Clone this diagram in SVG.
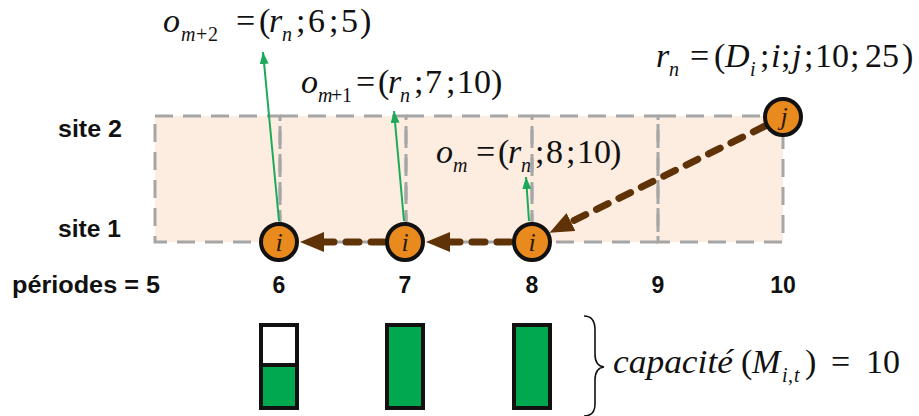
<svg xmlns="http://www.w3.org/2000/svg" width="919" height="416" viewBox="0 0 919 416">
<defs>
<style>
.m{font-family:'Liberation Serif','Times New Roman',serif;font-size:34px;fill:#111}
.it{font-style:italic}
.sub{font-size:20px}
.lbl{font-family:'Liberation Sans',Arial,sans-serif;font-size:23px;font-weight:bold;fill:#111}
.num{font-family:'Liberation Sans',Arial,sans-serif;font-size:23px;font-weight:bold;fill:#111;text-anchor:middle}
.cell{fill:none;stroke:#A6A6A6;stroke-width:3;stroke-dasharray:18 10}
.node{fill:#E88A1E;stroke:#111;stroke-width:4}
.nl{font-family:'Liberation Serif','Times New Roman',serif;font-style:italic;font-size:26px;fill:#2a1a08;text-anchor:middle}
.flow{fill:none;stroke:#5F3307;stroke-width:7;stroke-linecap:round;stroke-dasharray:13 12}
.green{fill:none;stroke:#1BAA5A;stroke-width:2}
.bar{stroke:#111;stroke-width:4}
</style>
<marker id="bh" viewBox="0 0 24 20" refX="0" refY="10" markerWidth="24" markerHeight="20" markerUnits="userSpaceOnUse" orient="auto">
<path d="M0,0 L24,10 L0,20 z" fill="#5F3307"/>
</marker>
<marker id="gh" viewBox="0 0 12 9" refX="12" refY="4.5" markerWidth="12" markerHeight="9" markerUnits="userSpaceOnUse" orient="auto">
<path d="M0,0 L12,4.5 L0,9 z" fill="#1BAA5A"/>
</marker>
</defs>
<rect width="919" height="416" fill="#fff"/>

<g id="grid">
<rect x="155" y="116" width="628" height="126" fill="#FCEDE0"/>
<rect class="cell" x="155" y="116" width="125" height="126"/>
<rect class="cell" x="280" y="116" width="126" height="126"/>
<rect class="cell" x="406" y="116" width="126" height="126"/>
<rect class="cell" x="532" y="116" width="126" height="126"/>
<rect class="cell" x="658" y="116" width="125" height="126"/>
</g>

<g id="labels">
<text class="lbl" x="58" y="137" textLength="64" lengthAdjust="spacingAndGlyphs">site 2</text>
<text class="lbl" x="58" y="237" textLength="63" lengthAdjust="spacingAndGlyphs">site 1</text>
<text class="lbl" x="12" y="293" textLength="148" lengthAdjust="spacingAndGlyphs">périodes = 5</text>
<text class="num" x="279" y="293">6</text>
<text class="num" x="405" y="293">7</text>
<text class="num" x="532" y="293">8</text>
<text class="num" x="658" y="293">9</text>
<text class="num" x="783" y="293">10</text>
</g>

<g id="connectors">
<line class="green" x1="279" y1="221" x2="263" y2="52" marker-end="url(#gh)"/>
<line class="green" x1="404" y1="221" x2="394" y2="111" marker-end="url(#gh)"/>
<line class="green" x1="529" y1="221" x2="526" y2="177" marker-end="url(#gh)"/>
<line class="flow" x1="765" y1="126" x2="571" y2="222" marker-end="url(#bh)"/>
<line class="flow" x1="510" y1="242" x2="450" y2="242" marker-end="url(#bh)"/>
<line class="flow" x1="384" y1="242" x2="324" y2="242" marker-end="url(#bh)"/>
</g>

<g id="node-i6"><circle class="node" cx="279" cy="242" r="18"/><text class="nl" x="279" y="251">i</text></g>
<g id="node-i7"><circle class="node" cx="405" cy="242" r="18"/><text class="nl" x="405" y="251">i</text></g>
<g id="node-i8"><circle class="node" cx="532" cy="242" r="18"/><text class="nl" x="532" y="251">i</text></g>
<g id="node-j10"><circle class="node" cx="783" cy="117" r="18"/><text class="nl" x="784" y="125">j</text></g>

<g id="eq-om2">
<text class="m" y="32"><tspan class="it" x="163">o</tspan><tspan class="sub it" x="181" y="41">m</tspan><tspan class="sub" x="196" y="41">+</tspan><tspan class="sub" x="208" y="41">2</tspan><tspan x="236" y="32">=</tspan><tspan x="259">(</tspan><tspan class="it" x="269">r</tspan><tspan class="sub it" x="282" y="41">n</tspan><tspan x="296" y="32">;</tspan><tspan x="308">6</tspan><tspan x="329">;</tspan><tspan x="341">5</tspan><tspan x="360">)</tspan></text>
</g>
<g id="eq-om1">
<text class="m" y="93"><tspan class="it" x="301">o</tspan><tspan class="sub it" x="318" y="102">m</tspan><tspan class="sub" x="331" y="102">+</tspan><tspan class="sub" x="342" y="102">1</tspan><tspan x="356" y="93">=</tspan><tspan x="378">(</tspan><tspan class="it" x="388">r</tspan><tspan class="sub it" x="400" y="102">n</tspan><tspan x="414" y="93">;</tspan><tspan x="425">7</tspan><tspan x="446">;</tspan><tspan x="457">10</tspan><tspan x="491">)</tspan></text>
</g>
<g id="eq-om">
<text class="m" y="163"><tspan class="it" x="436">o</tspan><tspan class="sub it" x="453" y="172">m</tspan><tspan x="476" y="163">=</tspan><tspan x="498">(</tspan><tspan class="it" x="508">r</tspan><tspan class="sub it" x="521" y="172">n</tspan><tspan x="535" y="163">;</tspan><tspan x="546">8</tspan><tspan x="566">;</tspan><tspan x="577">10</tspan><tspan x="610">)</tspan></text>
</g>
<g id="eq-rn">
<text class="m" y="67"><tspan class="it" x="656">r</tspan><tspan class="sub it" x="669" y="76">n</tspan><tspan x="690" y="67">=</tspan><tspan x="714">(</tspan><tspan class="it" x="725">D</tspan><tspan class="sub it" x="750" y="76">i</tspan><tspan x="760" y="67">;</tspan><tspan class="it" x="771">i</tspan><tspan x="781">;</tspan><tspan class="it" x="792">j</tspan><tspan x="804">;</tspan><tspan x="815">10</tspan><tspan x="850">;</tspan><tspan x="865">25</tspan><tspan x="902">)</tspan></text>
</g>

<g id="capacity">
<rect x="261" y="325" width="36" height="83" fill="#fff"/>
<rect x="261" y="365" width="36" height="43" fill="#00A94F"/>
<rect class="bar" x="261" y="325" width="36" height="83" fill="none"/>
<line x1="261" y1="365" x2="297" y2="365" stroke="#111" stroke-width="4"/>
<rect class="bar" x="387" y="325" width="36" height="83" fill="#00A94F"/>
<rect class="bar" x="514" y="325" width="36" height="83" fill="#00A94F"/>
<path d="M584,316 Q595,316 595,330 L595,354 Q595,366 604,367 Q595,368 595,380 L595,404 Q595,416 584,416" fill="none" stroke="#111" stroke-width="1.6"/>
<text class="m" y="373"><tspan class="it" x="613" textLength="120" lengthAdjust="spacingAndGlyphs">capacité</tspan><tspan x="741">(</tspan><tspan class="it" x="752">M</tspan><tspan class="sub it" x="782" y="382">i</tspan><tspan class="sub" x="788" y="382">,</tspan><tspan class="sub it" x="794" y="382">t</tspan><tspan x="805" y="373">)</tspan><tspan x="831">=</tspan><tspan x="866">10</tspan></text>
</g>
</svg>
